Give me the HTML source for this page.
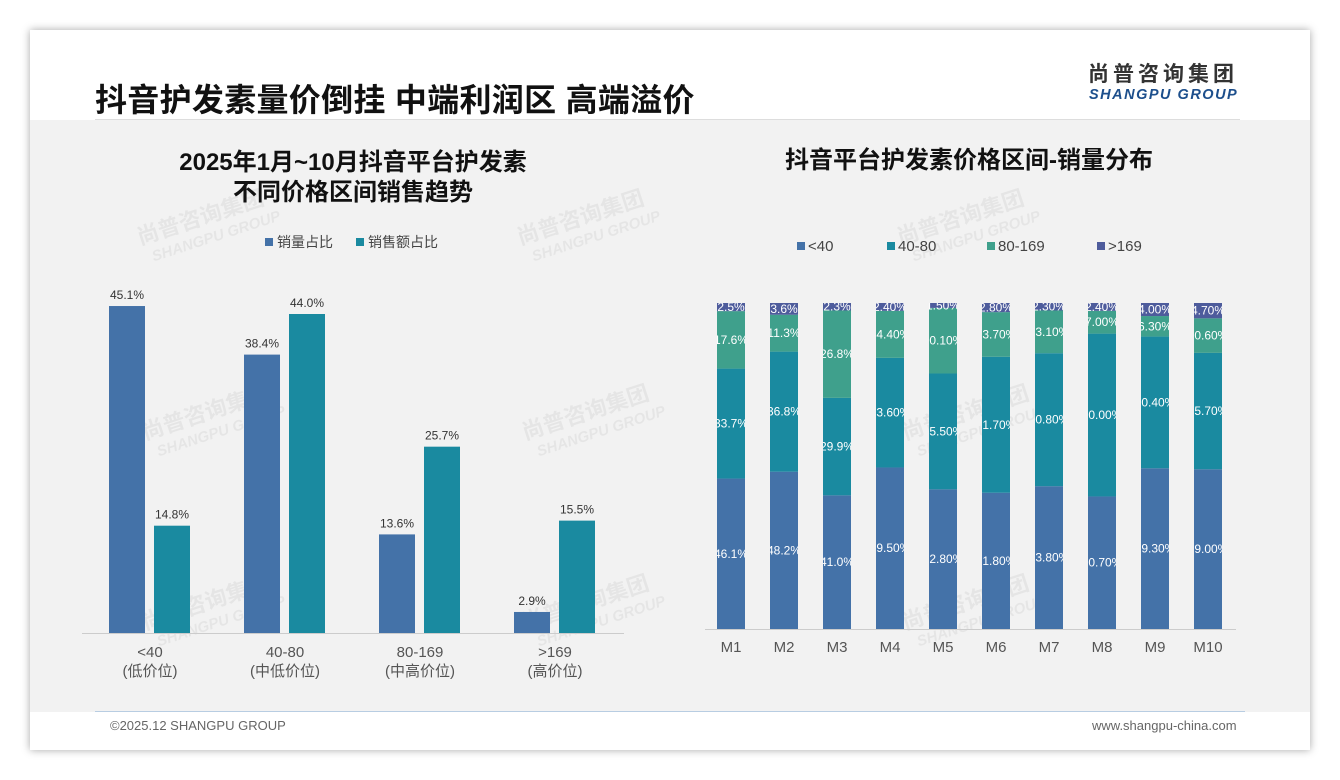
<!DOCTYPE html>
<html><head><meta charset="utf-8"><style>
body{margin:0;width:1340px;height:780px;background:#fff;font-family:"Liberation Sans","Noto Sans CJK SC",sans-serif;position:relative;overflow:hidden}
.card{position:absolute;left:30px;top:30px;width:1280px;height:720px;background:#fff;box-shadow:0 0 8px rgba(0,0,0,.35)}
.content{position:absolute;left:30px;top:120px;width:1280px;height:592px;background:#f2f2f2}
.abs{position:absolute}
</style></head><body>
<div class="card"></div>
<div class="content"></div>
<div class="abs" style="left:95px;top:119px;width:1145px;height:1px;background:#ddd"></div>
<div class="abs" style="left:95px;top:75px;font-size:32px;font-weight:bold;color:#111;letter-spacing:0.3px">抖音护发素量价倒挂 中端利润区 高端溢价</div>
<div class="abs" style="left:1088px;top:64px;font-size:21px;line-height:22px;font-weight:bold;color:#333;letter-spacing:4px;white-space:nowrap">尚普咨询集团</div>
<div class="abs" style="left:1089px;top:87px;font-size:14.5px;line-height:16px;font-weight:bold;font-style:italic;color:#1d4f8c;letter-spacing:1.5px;white-space:nowrap">SHANGPU GROUP</div>
<div class="abs" style="left:95px;top:711px;width:1150px;height:1px;background:#b8cde2"></div>
<div class="abs" style="left:110px;top:718px;font-size:13px;color:#666">©2025.12 SHANGPU GROUP</div>
<div class="abs" style="left:1092px;top:718px;font-size:13px;color:#666">www.shangpu-china.com</div>

<svg class="abs" style="left:0;top:0" width="1340" height="780" id="chart"></svg>
<script>
const cats=["<40","40-80","80-169",">169"];
const subs=["(低价位)","(中低价位)","(中高价位)","(高价位)"];
const volShare=[45.1,38.4,13.6,2.9];
const salesShare=[14.8,44.0,25.7,15.5];
const months=["M1","M2","M3","M4","M5","M6","M7","M8","M9","M10"];
const s1=[46.1,48.2,41.0,49.5,42.8,41.8,43.8,40.7,49.3,49.0];
const s2=[33.7,36.8,29.9,33.6,35.5,41.7,40.8,50.0,40.4,35.7];
const s3=[17.6,11.3,26.8,14.4,20.1,13.7,13.1,7.0,6.3,10.6];
const s4=[2.5,3.6,2.3,2.4,1.5,2.8,2.3,2.4,4.0,4.7];
const lbl1=["46.1%","48.2%","41.0%","49.50%","42.80%","41.80%","43.80%","40.70%","49.30%","49.00%"];
const lbl2=["33.7%","36.8%","29.9%","33.60%","35.50%","41.70%","40.80%","50.00%","40.40%","35.70%"];
const lbl3=["17.6%","11.3%","26.8%","14.40%","20.10%","13.70%","13.10%","7.00%","6.30%","10.60%"];
const lbl4=["2.5%","3.6%","2.3%","2.40%","1.50%","2.80%","2.30%","2.40%","4.00%","4.70%"];
const stackLegend=["<40","40-80","80-169",">169"];
const svg=document.getElementById('chart');
const NS='http://www.w3.org/2000/svg';
function mk(t,a,txt){const e=document.createElementNS(NS,t);for(const k in a)e.setAttribute(k,a[k]);if(txt!==undefined)e.textContent=txt;svg.appendChild(e);return e;}
const C1='#4472a8',C2='#1a8aa0',C3='#3fa08c',C4='#4e5c9c';
[[140,245],[520,245],[900,245],[145,440],[525,440],[905,440],[145,630],[525,630],[905,630]].forEach(p=>{
 const w=mk('text',{x:p[0],y:p[1],'font-size':22,'font-weight':'bold',fill:'#000','fill-opacity':0.05,transform:`rotate(-18 ${p[0]} ${p[1]})`},'尚普咨询集团');
 
 const w2=mk('text',{x:p[0]+8,y:p[1]+20,'font-size':15,'font-weight':'bold','font-style':'italic',fill:'#000','fill-opacity':0.05,transform:`rotate(-18 ${p[0]} ${p[1]})`},'SHANGPU GROUP');
 
});
let t=mk('text',{x:353,y:170,'font-size':24,'font-weight':'bold','text-anchor':'middle',fill:'#111'},'2025年1月~10月抖音平台护发素');

t=mk('text',{x:353,y:200,'font-size':24,'font-weight':'bold','text-anchor':'middle',fill:'#111'},'不同价格区间销售趋势');

let r=mk('rect',{x:265,y:238,width:8,height:8,fill:C1});
t=mk('text',{x:277,y:247,'font-size':14,fill:'#444'},'销量占比');
r=mk('rect',{x:356,y:238,width:8,height:8,fill:C2});
t=mk('text',{x:368,y:247,'font-size':14,fill:'#444'},'销售额占比');
const base=633, k=7.25;
const ly=v=>base-v*k;
const gx=i=>150+i*135;
let l=mk('line',{x1:82,x2:624,y1:base+0.5,y2:base+0.5,stroke:'#ccc'});
cats.forEach((c,i)=>{
 const cx=gx(i);
 let b=mk('rect',{x:cx-41,y:ly(volShare[i]),width:36,height:base-ly(volShare[i]),fill:C1});
 
 let v=mk('text',{x:cx-23,y:ly(volShare[i])-7,'font-size':12,'text-anchor':'middle',fill:'#333'},volShare[i].toFixed(1)+'%');
 
 b=mk('rect',{x:cx+4,y:ly(salesShare[i]),width:36,height:base-ly(salesShare[i]),fill:C2});
 
 v=mk('text',{x:cx+22,y:ly(salesShare[i])-7,'font-size':12,'text-anchor':'middle',fill:'#333'},salesShare[i].toFixed(1)+'%');
 
 v=mk('text',{x:cx,y:657,'font-size':15,'text-anchor':'middle',fill:'#555'},c);
 
 v=mk('text',{x:cx,y:676,'font-size':15,'text-anchor':'middle',fill:'#555'},subs[i]);
 
});
t=mk('text',{x:969,y:168,'font-size':24,'font-weight':'bold','text-anchor':'middle',fill:'#111'},'抖音平台护发素价格区间-销量分布');

const lcols=[C1,C2,C3,C4], lxs=[797,887,987,1097];
stackLegend.forEach((s,i)=>{
 let q=mk('rect',{x:lxs[i],y:242,width:8,height:8,fill:lcols[i]});
 q=mk('text',{x:lxs[i]+11,y:251,'font-size':15,fill:'#444'},s);
});
const rb=629, rt=303, H=rb-rt;
const mx=i=>731+i*53;
const defs=mk('defs',{});
l=mk('line',{x1:705,x2:1236,y1:rb+0.5,y2:rb+0.5,stroke:'#ccc'});
months.forEach((m,i)=>{
 const tot=s1[i]+s2[i]+s3[i]+s4[i];
 const vals=[s1[i],s2[i],s3[i],s4[i]], labs=[lbl1[i],lbl2[i],lbl3[i],lbl4[i]];
 const cp=document.createElementNS(NS,'clipPath');cp.setAttribute('id','cp'+i);
 const cr=document.createElementNS(NS,'rect');cr.setAttribute('x',mx(i)-14);cr.setAttribute('y',rt);cr.setAttribute('width',28);cr.setAttribute('height',H);
 cp.appendChild(cr);defs.appendChild(cp);
 let y=rb;
 vals.forEach((v,j)=>{
  const h=v/tot*H;
  const b=mk('rect',{x:mx(i)-14,y:y-h,width:28,height:h,fill:lcols[j]});
  
  const tx=mk('text',{x:mx(i),y:y-h/2+4,'font-size':12,'text-anchor':'middle',fill:'#fff','clip-path':'url(#cp'+i+')'},labs[j]);
  
  y-=h;
 });
 const tl=mk('text',{x:mx(i),y:652,'font-size':15,'text-anchor':'middle',fill:'#555'},m);
 
});
</script>
</body></html>
